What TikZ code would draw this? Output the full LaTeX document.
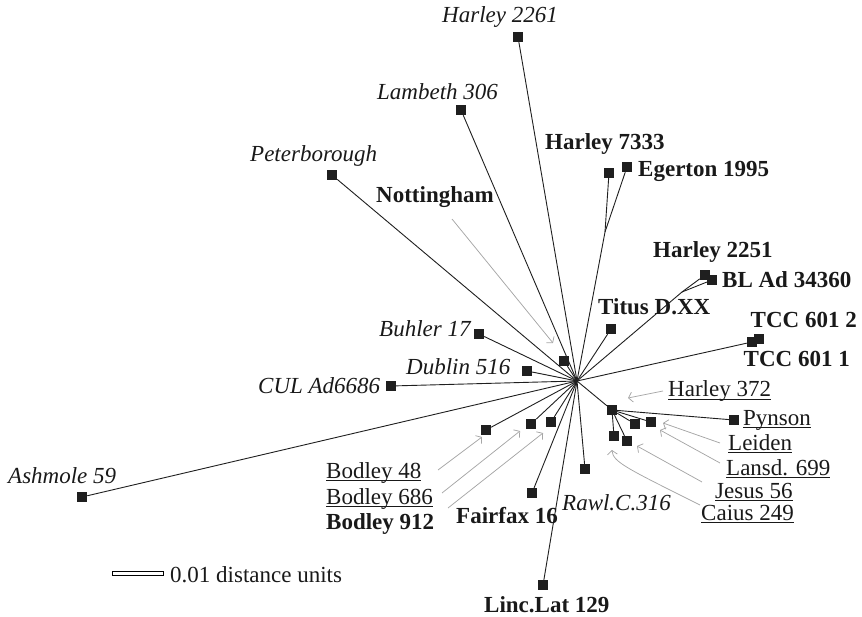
\documentclass[tikz,border=0pt]{standalone}
\usepackage{fontspec}
\setmainfont{Liberation Serif}
\usetikzlibrary{arrows.meta}

% Underline that sits close to the baseline.
\newcommand\msline[1]{\setbox0\hbox{#1}\rlap{\vrule width\wd0 height -2pt depth 3.4pt}\box0}

\begin{document}
\begin{tikzpicture}[
  x=1pt, y=-1pt,
  font=\fontsize{23}{27}\selectfont,
  leaf/.style={fill=black!88, minimum size=10pt, inner sep=0pt},
  branch/.style={line width=0.9pt, draw=black!88},
  pointer/.style={-{Straight Barb[length=4pt,width=10pt]}, line width=0.75pt, draw=black!35},
  ms/.style={anchor=base west, inner sep=0pt, text=black!90},
  lost/.style={ms, font=\fontsize{23}{27}\selectfont\itshape},
  extant/.style={ms, font=\fontsize{23}{27}\selectfont\bfseries},
  ulined/.style={ms}
]
\useasboundingbox (0,0) rectangle (862,617);

% Centre of the unrooted tree and inner splits.
\coordinate (hub) at (577,381);
\coordinate (j7333) at (605,232);
\coordinate (j2251) at (682,292);

% Manuscript leaves.
\foreach \name/\x/\y in {h2261/518/37, lam306/461/110, peter/332/175,
  h7333/609/173, eger/627/167, h2251/705/275, blad/712/280, titus/611/329,
  tcc1/752/342, tcc2/759/339, buhler/479/334, nott/564/361, dublin/527/371,
  cul/391/386, ashm/82/497, bod48/486/430, bod686/531/424, bod912/551/422,
  fairfax/532/493, rawl/585/469, linc/543/585, h372/612/410,
  pynson/734/420, leiden/651/422, lansd/635/424, jesus/627/441, caius/614/436}
  \node[leaf] (\name) at (\x,\y) {};

% Branches.
\foreach \name in {h2261,lam306,peter,j7333,j2251,titus,tcc1,buhler,
  nott,dublin,cul,ashm,bod48,bod686,bod912,fairfax,rawl,linc,h372}
  \draw[branch] (hub) -- (\name);
\draw[branch] (j7333) -- (h7333);
\draw[branch] (j7333) -- (eger);
\draw[branch] (j2251) -- (h2251);
\draw[branch] (j2251) -- (blad);
\draw[branch] (tcc1) -- (tcc2);
\foreach \name in {pynson,leiden,lansd,jesus,caius}
  \draw[branch] (h372) -- (\name);

% Labels.
\node[lost] (l-h2261) at (442,23) {Harley 2261};
\node[lost] (l-lam306) at (377,100) {Lambeth 306};
\node[lost] (l-peter) at (250,162) {Peterborough};
\node[lost] (l-buhler) at (379,337) {Buhler 17};
\node[lost] (l-dublin) at (406,374) {Dublin 516};
\node[lost] (l-cul) at (258,393) {CUL Ad6686};
\node[lost] (l-ashm) at (8,483) {Ashmole 59};
\node[lost] (l-rawl) at (562,510) {Rawl.C.316};

\node[extant] (l-h7333) at (545,150) {Harley 7333};
\node[extant] (l-eger) at (638,177) {Egerton 1995};
\node[extant] (l-nott) at (376,203) {Nottingham};
\node[extant] (l-h2251) at (653,258) {Harley 2251};
\node[extant] (l-blad) at (722,288) {BL Ad 34360};
\node[extant] (l-titus) at (598,315) {Titus D.XX};
\node[extant, anchor=base east] (l-tcc2) at (857,328) {TCC 601 2};
\node[extant, anchor=base east] (l-tcc1) at (850,367) {TCC 601 1};
\node[extant] (l-fairfax) at (456,523) {Fairfax 16};
\node[extant] (l-linc) at (484,612) {Linc.Lat 129};
\node[extant] (l-bod912) at (326,529) {Bodley 912};

\node[ulined] (l-h372) at (668,397) {\msline{Harley 372}};
\node[ulined] (l-pynson) at (743,425) {\msline{Pynson}};
\node[ulined] (l-leiden) at (728,450) {\msline{Leiden}};
\node[ulined] (l-lansd) at (726,475) {\msline{Lansd. 699}};
\node[ulined] (l-jesus) at (715,498) {\msline{Jesus 56}};
\node[ulined] (l-caius) at (701,520) {\msline{Caius 249}};
\node[ulined] (l-bod48) at (326,478) {\msline{Bodley 48}};
\node[ulined] (l-bod686) at (326,504) {\msline{Bodley 686}};

% Pointers from labels to crowded leaves.
\coordinate (p-nott) at (452,219);     \coordinate (q-nott) at (553,343);
\coordinate (p-h372) at (663,391);     \coordinate (q-h372) at (628,398);
\coordinate (p-leiden) at (720,443);   \coordinate (q-leiden) at (663,423);
\coordinate (p-lansd) at (720,463);    \coordinate (q-lansd) at (660,430);
\coordinate (p-jesus) at (702,482);    \coordinate (q-jesus) at (637,446);
\coordinate (p-caius) at (700,505);    \coordinate (q-caius) at (612,450);
\coordinate (p-bod48) at (438,470);    \coordinate (q-bod48) at (482,437);
\coordinate (p-bod686) at (442,493);   \coordinate (q-bod686) at (520,431);
\coordinate (p-bod912) at (448,508);   \coordinate (q-bod912) at (543,433);
\foreach \name in {nott,h372,leiden,lansd,jesus,bod48,bod686,bod912}
  \draw[pointer] (p-\name) -- (q-\name);
\draw[pointer] (p-caius) .. controls (626,468) and (613,462) .. (q-caius);

% Scale bar.
\draw[line width=0.6pt, fill=white] (112,571) rectangle (163,575);
\node[ms] (scale) at (170,582) {0.01 distance units};

\end{tikzpicture}
\end{document}
